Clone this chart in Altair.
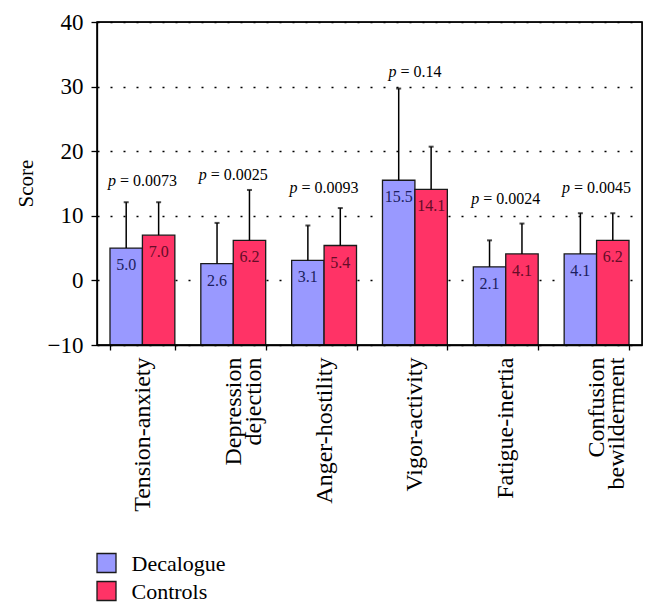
import altair as alt
import pandas as pd

# ---- data ----
categories = ["Tension-anxiety", "Depression|dejection", "Anger-hostility",
              "Vigor-activity", "Fatigue-inertia", "Confusion|bewilderment"]
groups = ["Decalogue", "Controls"]
decalogue = [5.0, 2.6, 3.1, 15.5, 2.1, 4.1]
controls = [7.0, 6.2, 5.4, 14.1, 4.1, 6.2]
decalogue_sd = [7.1, 6.3, 5.4, 14.2, 4.1, 6.3]
controls_sd = [5.1, 7.8, 5.8, 6.6, 4.7, 4.2]
p_values = ["0.0073", "0.0025", "0.0093", "0.14", "0.0024", "0.0045"]
p_y = [14.6, 15.5, 13.5, 31.5, 11.9, 13.5]
y_min, y_max = -10, 40

bar_colors = ["#9999FF", "#FF3366"]
text_colors = ["#1c1e5e", "#650c28"]
FONT = "Liberation Serif"

WIDTH = 545
HEIGHT = 323
N = len(categories)
STEP = WIDTH / N
BAND = STEP * (1 - 0.286)

rows = []
for i, c in enumerate(categories):
    for g, vals, sds, tc in [("Decalogue", decalogue, decalogue_sd, text_colors[0]),
                             ("Controls", controls, controls_sd, text_colors[1])]:
        rows.append({"cat": c, "group": g, "value": vals[i],
                     "top": vals[i] + sds[i], "label": f"{vals[i]:.1f}", "tc": tc})
df = pd.DataFrame(rows)

PFS = 16
w = {".": 0.25, "=": 0.564, " ": 0.25}
prow = []
for c, pv, py in zip(categories, p_values, p_y):
    rest = "= " + pv
    rest_w = sum(w.get(ch, 0.5) for ch in rest) * PFS
    total = 0.5 * PFS + 0.25 * PFS + rest_w
    off = BAND / 2 + 0.5 * PFS - total / 2
    prow.append({"cat": c, "rest": rest, "py": py, "off": off})
pdf = pd.DataFrame(prow)

fill_scale = alt.Scale(domain=groups, range=bar_colors)

x_enc = alt.X("cat:N", sort=categories,
              scale=alt.Scale(paddingInner=0.286, paddingOuter=0.143),
              axis=alt.Axis(title=None, labelAngle=-90, labelAlign="right",
                            labelBaseline="middle", labelFontSize=24,
                            labelFont=FONT, labelColor="black",
                            labelExpr="split(datum.label, '|')",
                            labelLineHeight=20, labelPadding=7,
                            tickBand="extent", tickSize=5, tickColor="black",
                            tickWidth=1.3, domainColor="black", domainWidth=1.3,
                            grid=False))
y_scale = alt.Scale(domain=[y_min, y_max], nice=False, zero=False)
xo = alt.XOffset("group:N", scale=alt.Scale(domain=groups, paddingInner=0))

base = alt.Chart(df)

bars = base.mark_bar(stroke="#1a1a1a", strokeWidth=1.3).encode(
    x=x_enc,
    xOffset=xo,
    y=alt.Y("value:Q", scale=y_scale,
            axis=alt.Axis(title="Score", values=[-10, 0, 10, 20, 30, 40],
                          format="d", labelFontSize=23, labelFont=FONT,
                          labelColor="black", labelPadding=8, tickSize=6,
                          tickColor="black", tickWidth=1.3,
                          domainColor="black", domainWidth=1.3,
                          grid=True, gridColor="black", gridDash=[2, 11],
                          gridWidth=1.5, titleFont=FONT, titleFontSize=21,
                          titleFontWeight="normal", titleColor="black",
                          titleAngle=-90, titleX=-65, titleY=161,
                          titleAlign="center", titleBaseline="alphabetic")),
    y2=alt.datum(y_min),
    fill=alt.Fill("group:N", scale=fill_scale, legend=None),
)

err = base.mark_rule(color="black", strokeWidth=1.5).encode(
    x=alt.X("cat:N", sort=categories), xOffset=xo,
    y=alt.Y("value:Q"), y2="top:Q")

caps = base.mark_tick(color="black", orient="horizontal", size=5,
                      thickness=2).encode(
    x=alt.X("cat:N", sort=categories), xOffset=xo, y=alt.Y("top:Q"))

vals = base.mark_text(font=FONT, fontSize=16, baseline="alphabetic",
                      align="center", dy=22).encode(
    x=alt.X("cat:N", sort=categories), xOffset=xo, y=alt.Y("value:Q"),
    text="label:N", color=alt.Color("tc:N", scale=None))

pbase = alt.Chart(pdf)
p_it = pbase.mark_text(font=FONT, fontSize=PFS, fontStyle="italic",
                       align="right", baseline="alphabetic", color="black").encode(
    x=alt.X("cat:N", sort=categories),
    xOffset=alt.XOffset("off:Q", scale=None),
    y=alt.Y("py:Q"), text=alt.value("p"))
p_rest = pbase.mark_text(font=FONT, fontSize=PFS, align="left",
                         baseline="alphabetic", color="black", dx=4).encode(
    x=alt.X("cat:N", sort=categories),
    xOffset=alt.XOffset("off:Q", scale=None),
    y=alt.Y("py:Q"), text="rest:N")

# frame drawn as an unfilled rectangle over the whole plot area
frame_df = pd.DataFrame({"lo": [y_min], "hi": [y_max]})
frame = alt.Chart(frame_df).mark_rect(
    fill="transparent", fillOpacity=0, stroke="black", strokeWidth=1.3
).encode(x=alt.value(0), x2=alt.value(WIDTH),
         y=alt.Y("hi:Q", scale=y_scale), y2="lo:Q")

# legend (bottom-left)
leg = alt.Chart(pd.DataFrame({"group": groups}))
legend_layers = []
for g, ly in zip(groups, [541, 569]):
    lg = leg.transform_filter(alt.datum.group == g)
    legend_layers.append(lg.mark_square(size=361, stroke="#1a1a1a",
                                        strokeWidth=1.3, opacity=1).encode(
        x=alt.value(9.5), y=alt.value(ly),
        fill=alt.Fill("group:N", scale=fill_scale, legend=None)))
    legend_layers.append(lg.mark_text(font=FONT, fontSize=22,
                                      fontWeight="normal", align="left",
                                      baseline="middle",
                                      color="black").encode(
        x=alt.value(34.5), y=alt.value(ly + 1), text="group:N"))

chart = alt.layer(bars, err, caps, vals, p_it, p_rest, frame,
                  *legend_layers).properties(
    width=WIDTH, height=HEIGHT,
    autosize=alt.AutoSizeParams(type="none"),
    padding={"left": 89, "top": 14, "right": 7, "bottom": 262},
).configure(font=FONT, view=alt.ViewConfig(stroke="black", strokeWidth=1.3))

chart.save("out.html", embed_options={"renderer": "svg", "actions": False})
